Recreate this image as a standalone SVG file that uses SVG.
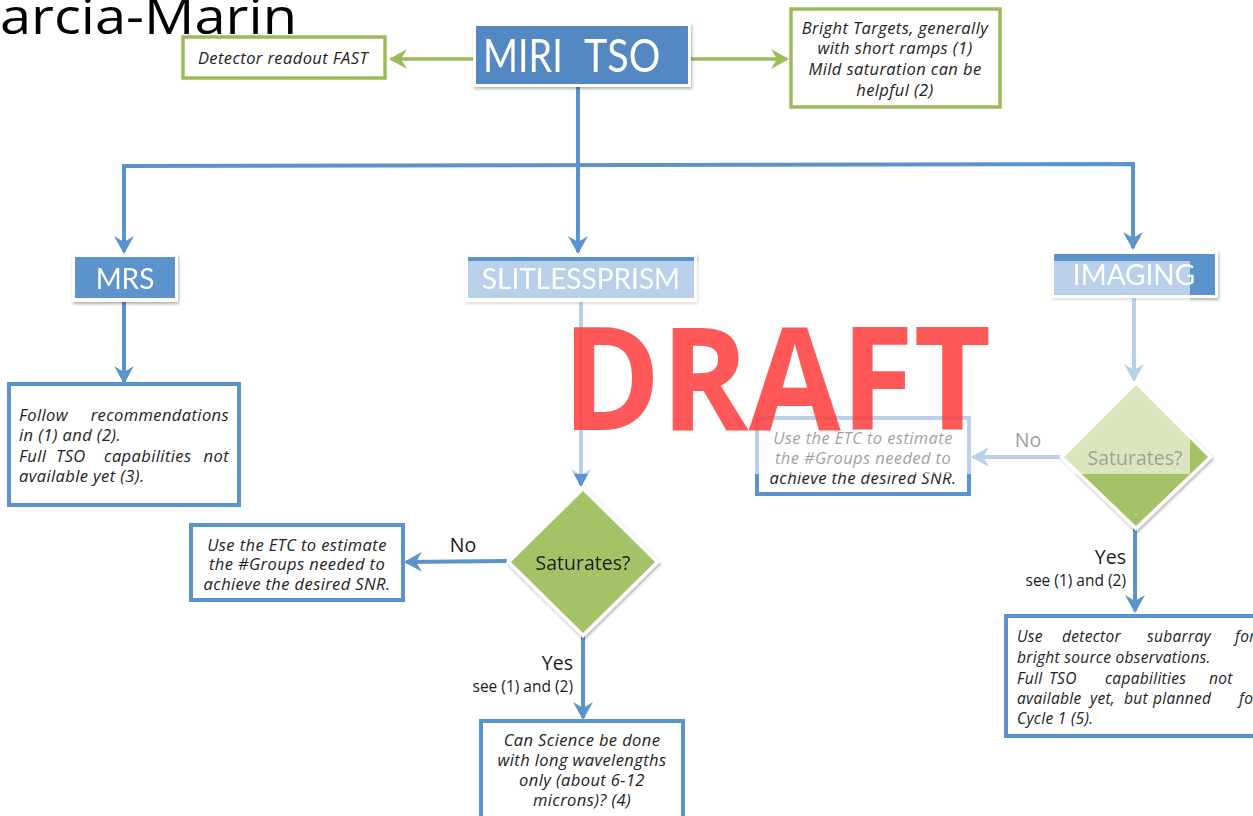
<svg xmlns="http://www.w3.org/2000/svg" width="1253" height="816" viewBox="0 0 1253 816">
<defs>
<style>
.it{font-family:"Open Sans","Liberation Sans",sans-serif;font-style:italic;font-size:16.5px;letter-spacing:0.4px;fill:#222;}
.it2{font-family:"Open Sans","Liberation Sans",sans-serif;font-style:italic;font-size:15.5px;letter-spacing:0.3px;fill:#222;}
.lbl{font-family:Lato,"Open Sans","Liberation Sans",sans-serif;fill:#fff;font-size:28px;}
.big{font-family:Lato,"Open Sans","Liberation Sans",sans-serif;fill:#fff;font-size:46px;}
.bl{stroke:#5b93cc;stroke-width:4;fill:none;}
.gr{stroke:#9bbb59;stroke-width:3.5;fill:none;}
.bbox{fill:#fff;stroke:#5b93cc;stroke-width:4;}
.gbox{fill:#fff;stroke:#9bbb59;stroke-width:3.5;}
.q{font-family:"Open Sans","Liberation Sans",sans-serif;fill:#1a1a1a;}
</style>
<marker id="ab" viewBox="0 0 18 20" refX="16" refY="10" markerWidth="18" markerHeight="20" markerUnits="userSpaceOnUse" orient="auto">
<path d="M0,0 L18,10 L0,20 L6,10 z" fill="#5b93cc"/>
</marker>
<marker id="ag" viewBox="0 0 18 20" refX="16" refY="10" markerWidth="18" markerHeight="20" markerUnits="userSpaceOnUse" orient="auto">
<path d="M0,0 L18,10 L0,20 L6,10 z" fill="#9bbb59"/>
</marker>
<filter id="sh" x="-10%" y="-10%" width="125%" height="130%">
<feDropShadow dx="1" dy="2" stdDeviation="1.8" flood-color="#000" flood-opacity="0.3"/>
</filter>
</defs>
<rect width="1253" height="816" fill="#fff"/>

<text x="0" y="34" font-family="'Open Sans','Liberation Sans',sans-serif" font-size="50" fill="#000" textLength="297" lengthAdjust="spacingAndGlyphs">arcia-Marin</text>

<g id="connectors">
<line class="gr" x1="474" y1="59" x2="391" y2="59" marker-end="url(#ag)"/>
<line class="gr" x1="690" y1="59" x2="787" y2="59" marker-end="url(#ag)"/>
<line class="bl" x1="578" y1="86" x2="578" y2="165"/>
<polyline class="bl" points="124,252 124,166 1133,164 1133,248" marker-end="url(#ab)"/>
<line class="bl" x1="124" y1="166" x2="124" y2="252" marker-end="url(#ab)"/>
<line class="bl" x1="578" y1="165" x2="578" y2="252" marker-end="url(#ab)"/>
<line class="bl" x1="124" y1="302" x2="124" y2="382" marker-end="url(#ab)"/>
<line class="bl" x1="581" y1="302" x2="581" y2="485" marker-end="url(#ab)"/>
<line class="bl" x1="507" y1="561" x2="406" y2="562" marker-end="url(#ab)"/>
<line class="bl" x1="583" y1="635" x2="583" y2="718" marker-end="url(#ab)"/>
<line class="bl" x1="1134" y1="297" x2="1134" y2="380" marker-end="url(#ab)"/>
<line class="bl" x1="1062" y1="457" x2="973" y2="457" marker-end="url(#ab)"/>
<line class="bl" x1="1135" y1="528" x2="1135" y2="611" marker-end="url(#ab)"/>
</g>

<g id="detector-fast">
<rect class="gbox" x="183" y="37" width="202" height="41"/>
<text class="it" x="283" y="64" text-anchor="middle">Detector readout FAST</text>
</g>

<g id="miri-tso" filter="url(#sh)">
<rect x="473" y="23" width="218" height="64" fill="#fff"/>
<rect x="476" y="26" width="212" height="58" fill="#5288c2"/>
<text class="big" transform="translate(483,72) scale(0.82,1)">MIRI</text>
<text class="big" transform="translate(584,72) scale(0.86,1)">TSO</text>
</g>

<g id="bright-targets">
<rect class="gbox" x="791" y="9" width="209" height="98"/>
<text class="it" x="895" y="34" text-anchor="middle">Bright Targets, generally</text>
<text class="it" x="895" y="54" text-anchor="middle">with short ramps (1)</text>
<text class="it" x="895" y="75" text-anchor="middle">Mild saturation can be</text>
<text class="it" x="895" y="96" text-anchor="middle">helpful (2)</text>
</g>

<g id="mrs" filter="url(#sh)">
<rect x="72" y="254" width="106" height="48" fill="#fff"/>
<rect x="75" y="257" width="100" height="41" fill="#5b93cc"/>
<text class="lbl" x="125" y="289" text-anchor="middle">MRS</text>
</g>

<g id="mrs-note">
<rect class="bbox" x="9" y="384" width="230" height="121"/>
<text class="it" y="421"><tspan x="19">Follow</tspan><tspan x="229" text-anchor="end">recommendations</tspan></text>
<text class="it" x="19" y="441">in (1) and (2).</text>
<text class="it" y="462"><tspan x="19">Full</tspan><tspan x="56">TSO</tspan><tspan x="104">capabilities</tspan><tspan x="229" text-anchor="end">not</tspan></text>
<text class="it" x="19" y="482">available yet (3).</text>
</g>

<g id="slitlessprism" filter="url(#sh)">
<rect x="465" y="254" width="232" height="48" fill="#fff"/>
<rect x="468" y="257" width="226" height="41" fill="#5b93cc"/>
<text class="lbl" x="581" y="289" text-anchor="middle">SLITLESSPRISM</text>
</g>

<g id="saturates-1" filter="url(#sh)">
<polygon points="583,486 660,562 583,638 506,562" fill="#fff"/>
<polygon points="583,491 655,562 583,633 511,562" fill="#a5c266"/>
<text class="q" x="583" y="570" font-size="19.5" text-anchor="middle">Saturates?</text>
</g>

<g id="etc-left">
<rect class="bbox" x="191" y="525" width="212" height="75"/>
<text class="it" x="297" y="551" text-anchor="middle">Use the ETC to estimate</text>
<text class="it" x="297" y="570" text-anchor="middle">the #Groups needed to</text>
<text class="it" x="297" y="590" text-anchor="middle">achieve the desired SNR.</text>
</g>

<g id="labels-1">
<text class="q" x="463" y="552" font-size="19.5" text-anchor="middle">No</text>
<text class="q" x="573" y="670" font-size="19.5" text-anchor="end">Yes</text>
<text class="q" x="573" y="692" font-size="15.5" text-anchor="end">see (1) and (2)</text>
</g>

<g id="long-wavelengths">
<rect class="bbox" x="481" y="721" width="202" height="100"/>
<text class="it" x="582" y="746" text-anchor="middle">Can Science be done</text>
<text class="it" x="582" y="766" text-anchor="middle">with long wavelengths</text>
<text class="it" x="582" y="786" text-anchor="middle">only (about 6-12</text>
<text class="it" x="582" y="806" text-anchor="middle">microns)? (4)</text>
</g>

<g id="imaging" filter="url(#sh)">
<rect x="1051" y="251" width="167" height="47" fill="#fff"/>
<rect x="1054" y="254" width="161" height="41" fill="#5b93cc"/>
<text class="lbl" x="1134" y="285" text-anchor="middle">IMAGING</text>
</g>

<g id="saturates-2" filter="url(#sh)">
<polygon points="1136,380 1213,457 1136,531 1059,457" fill="#fff"/>
<polygon points="1136,385 1208,457 1136,526 1064,457" fill="#a5c266"/>
<text class="q" x="1135" y="465" font-size="19.5" text-anchor="middle">Saturates?</text>
</g>

<g id="etc-right">
<rect class="bbox" x="757" y="418" width="212" height="76"/>
<text class="it" x="863" y="444" text-anchor="middle">Use the ETC to estimate</text>
<text class="it" x="863" y="464" text-anchor="middle">the #Groups needed to</text>
<text class="it" x="863" y="484" text-anchor="middle">achieve the desired SNR.</text>
</g>

<g id="labels-2">
<text class="q" x="1028" y="447" font-size="19.5" text-anchor="middle">No</text>
<text class="q" x="1126" y="564" font-size="19.5" text-anchor="end">Yes</text>
<text class="q" x="1126" y="586" font-size="15.5" text-anchor="end">see (1) and (2)</text>
</g>

<g id="subarray-note">
<rect class="bbox" x="1006" y="616" width="270" height="120"/>
<text class="it2" y="642"><tspan x="1017">Use</tspan><tspan x="1062">detector</tspan><tspan x="1147">subarray</tspan><tspan x="1235">for</tspan></text>
<text class="it2" x="1017" y="663">bright source observations.</text>
<text class="it2" y="684"><tspan x="1017">Full</tspan><tspan x="1049">TSO</tspan><tspan x="1105">capabilities</tspan><tspan x="1209">not</tspan></text>
<text class="it2" y="704"><tspan x="1017">available</tspan><tspan x="1090">yet,</tspan><tspan x="1124">but</tspan><tspan x="1153">planned</tspan><tspan x="1239">for</tspan></text>
<text class="it2" x="1017" y="724">Cycle 1 (5).</text>
</g>

<rect x="466" y="261" width="724" height="213" fill="#fff" fill-opacity="0.57"/>

<text x="562" y="430" font-family="'Open Sans','Liberation Sans',sans-serif" font-weight="700" font-size="143" fill="#ff3c3c" fill-opacity="0.86" textLength="429" lengthAdjust="spacingAndGlyphs">DRAFT</text>
</svg>
